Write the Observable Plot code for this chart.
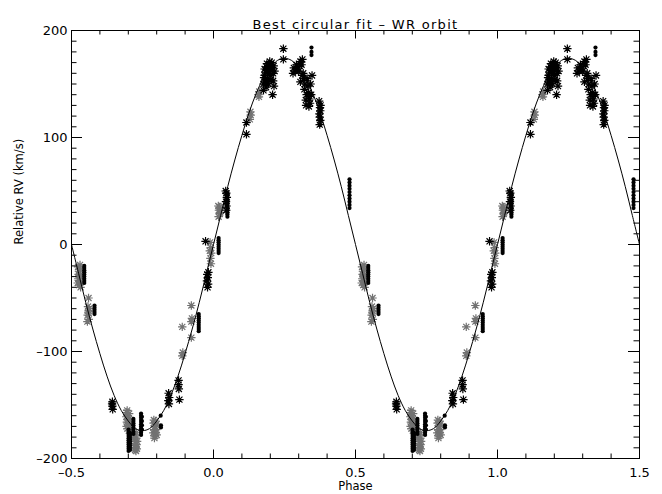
<!DOCTYPE html>
<html><head><meta charset="utf-8">
<script src="https://cdn.jsdelivr.net/npm/d3@7"></script>
<script src="https://cdn.jsdelivr.net/npm/@observablehq/plot@0.6"></script>
<style>
body{margin:0;background:#fff}
#chart svg{background:#fff}
</style>
</head><body><div id="chart"></div>
<script>
const titleText = "Best circular fit \u2013 WR orbit";
const xLabel = "Phase";
const yLabel = "Relative RV (km/s)";
const xTicks = [-0.5, 0, 0.5, 1, 1.5];
const yTicks = [-200, -100, 0, 100, 200];

// [phase, RV] for phases -0.5..0.5 (plotted again at phase + 1)
const grayStars = [
  [-0.477,-21],[-0.474,-25],[-0.471,-29],[-0.476,-32],[-0.469,-35],[-0.473,-38],[-0.468,-23],[-0.466,-30],[-0.478,-36],[-0.470,-19],[-0.475,-28],[-0.468,-40],
  [-0.440,-50],[-0.442,-58],[-0.440,-62],[-0.443,-66],[-0.439,-70],[-0.441,-64],[-0.444,-72],[-0.438,-60],
  [-0.306,-157],[-0.302,-160],[-0.298,-163],[-0.305,-166],[-0.300,-169],[-0.303,-172],[-0.297,-158],[-0.307,-161],[-0.299,-166],
  [-0.304,-155],[-0.301,-164],[-0.296,-171],[-0.306,-170],[-0.298,-174],
  [-0.276,-178],[-0.272,-181],[-0.275,-184],[-0.271,-187],[-0.274,-190],[-0.272,-176],[-0.277,-188],[-0.270,-191],
  [-0.278,-181],[-0.273,-193],[-0.269,-184],[-0.276,-192],
  [-0.211,-167],[-0.205,-170],[-0.209,-173],[-0.203,-176],[-0.207,-179],[-0.201,-168],[-0.212,-176],[-0.202,-173],
  [-0.210,-164],[-0.204,-165],[-0.200,-178],[-0.208,-181],
  [-0.110,-104],[-0.108,-101],[-0.110,-77],[-0.078,-87],[-0.078,-72],[-0.078,-57],[-0.076,-69],
  [-0.012,2],[-0.010,-3],[-0.008,-8],[-0.011,-13],[-0.009,-18],[-0.013,-6],
  [0.018,26],[0.022,29],[0.019,32],[0.021,35],[0.024,30],[0.017,36],
  [0.128,117],[0.131,121],[0.130,124],[0.158,140],[0.161,143],[0.160,138]
];
const blackStars = [
  [-0.356,-147],[-0.356,-151],[-0.355,-154],[-0.357,-149],
  [-0.158,-139],[-0.156,-143],[-0.159,-146],[-0.157,-149],[-0.120,-145],[-0.123,-127],[-0.123,-131],[-0.122,-135],
  [-0.022,-28],[-0.020,-31],[-0.023,-34],[-0.019,-37],[-0.021,-40],[-0.018,-26],[-0.028,3],
  [0.045,32],[0.046,36],[0.044,40],[0.047,44],[0.045,48],[0.043,50],
  [0.116,114],[0.116,103],
  [0.180,152],[0.180,158],[0.180,164],[0.185,150],[0.190,155],[0.190,161],[0.195,167],[0.200,158],[0.200,164],
  [0.205,170],[0.210,153],[0.210,160],[0.207,165],[0.185,147],[0.176,150],[0.178,156],[0.183,161],[0.187,166],
  [0.193,150],[0.197,160],[0.203,154],[0.212,167],[0.213,148],[0.215,162],[0.198,171],[0.188,169],[0.176,144],
  [0.208,140],[0.246,183],[0.246,173],
  [0.280,160],[0.283,165],[0.288,162],[0.292,168],[0.295,164],[0.300,162],[0.304,167],[0.310,168],[0.313,173],[0.306,171],
  [0.318,155],[0.322,150],[0.320,145],[0.328,140],[0.325,135],[0.332,148],[0.335,142],[0.338,136],[0.326,130],
  [0.340,132],[0.347,158],[0.342,150],[0.330,155],[0.312,158],[0.306,152],[0.316,160],[0.336,129],[0.344,140],
  [0.372,134],[0.375,128],[0.373,122],[0.376,116],[0.374,112],[0.377,130],[0.374,119],[0.376,125]
];
const blackDots = [
  [-0.455,-20],[-0.455,-22],[-0.455,-24],[-0.455,-26],[-0.455,-28],[-0.455,-30],[-0.455,-32],[-0.455,-34],[-0.455,-36],
  [-0.419,-57],[-0.419,-59],[-0.419,-61],[-0.419,-63],[-0.419,-65],
  [-0.299,-173],[-0.299,-175],[-0.299,-177],[-0.299,-179],[-0.299,-181],[-0.299,-183],[-0.299,-185],[-0.299,-187],[-0.299,-189],[-0.299,-191],[-0.299,-193],
  [-0.294,-176],[-0.294,-178],[-0.294,-180],[-0.294,-182],[-0.294,-184],[-0.294,-186],[-0.294,-188],[-0.294,-190],[-0.294,-192],
  [-0.282,-163],[-0.282,-165],[-0.282,-167],[-0.282,-169],[-0.282,-171],[-0.282,-173],[-0.282,-175],[-0.282,-177],
  [-0.255,-158],[-0.255,-160],[-0.255,-162],[-0.255,-164],[-0.255,-166],[-0.255,-168],[-0.255,-170],[-0.255,-172],[-0.255,-174],[-0.255,-176],[-0.255,-178],
  [-0.252,-161],[-0.252,-165],[-0.252,-169],[-0.252,-173],
  [-0.186,-160],[-0.185,-169],[-0.185,-171],
  [-0.052,-65],[-0.052,-67],[-0.052,-69],[-0.052,-71],[-0.052,-73],[-0.052,-75],[-0.052,-77],[-0.052,-79],[-0.052,-81],
  [0.018,6],[0.018,4],[0.018,2],[0.018,0],[0.018,-2],[0.018,-4],[0.018,-6],[0.018,-8],
  [0.049,26],[0.049,28],[0.049,30],[0.049,32],[0.049,34],[0.049,36],[0.049,38],[0.049,40],[0.049,42],[0.049,44],[0.049,46],[0.049,48],
  [0.345,184],[0.345,180],[0.345,177],
  [0.375,112],[0.375,116],[0.375,120],[0.375,124],[0.375,128],[0.375,132],
  [0.479,61],[0.479,58],[0.479,55],[0.479,52],[0.479,49],[0.479,46],[0.479,43],[0.479,40],[0.479,37],[0.479,34]
];

// fitted circular orbit, read at steps of 0.025 in phase over one cycle
const fitPhase = [-0.5,-0.475,-0.45,-0.425,-0.4,-0.375,-0.35,-0.325,-0.3,-0.275,-0.25,-0.225,-0.2,-0.175,-0.15,-0.125,-0.1,-0.075,-0.05,-0.025,
  0,0.025,0.05,0.075,0.1,0.125,0.15,0.175,0.2,0.225,0.25,0.275,0.3,0.325,0.35,0.375,0.4,0.425,0.45,0.475,0.5];
const fitRV = [0,-27,-54,-79,-102,-123,-141,-155,-165,-172,-174,-172,-165,-155,-141,-123,-102,-79,-54,-27,
  0,27,54,79,102,123,141,155,165,172,174,172,165,155,141,123,102,79,54,27,0];

const twoCycles = arr => arr.flatMap(([p, v]) => [{phase: p, rv: v}, {phase: p + 1, rv: v}]);
const gray = twoCycles(grayStars);
const stars = twoCycles(blackStars);
const dots = twoCycles(blackDots);
const fit = fitPhase.map((p, i) => ({phase: p, rv: fitRV[i]}))
  .concat(fitPhase.slice(1).map((p, i) => ({phase: p + 1, rv: fitRV[i + 1]})));

const xMinor = d3.range(-5, 16).map(d => d / 10);
const yMinor = d3.range(-20, 21).map(d => d * 10);

const idlStar = {
  draw(ctx, size) {
    const r = Math.sqrt(size / Math.PI);
    const d = r * 0.72;
    ctx.moveTo(-r, 0); ctx.lineTo(r, 0);
    ctx.moveTo(0, -r); ctx.lineTo(0, r);
    ctx.moveTo(-d, -d); ctx.lineTo(d, d);
    ctx.moveTo(-d, d); ctx.lineTo(d, -d);
  }
};
const fmt = d => (d < 0 ? "\u2013" : "") + Math.abs(d).toFixed(1);
const fmtY = d => (d < 0 ? "\u2013" : "") + Math.abs(d);
const F = "DejaVu Sans";
const W = 662, H = 494, ML = 71, MR = 23, MT = 30, MB = 36;
const fw = W - ML - MR, fh = H - MT - MB;

const chart = Plot.plot({
  width: W, height: H,
  marginLeft: ML, marginRight: MR, marginTop: MT, marginBottom: MB,
  style: {fontFamily: F, background: "#fff", color: "#000"},
  x: {domain: [-0.5, 1.5], label: null, axis: null},
  y: {domain: [-200, 200], label: null, axis: null},
  marks: [
    Plot.dot(gray, {x: "phase", y: "rv", symbol: idlStar, r: 4.2, stroke: "#727272", strokeWidth: 1.2, fill: "none"}),
    Plot.line(fit, {x: "phase", y: "rv", curve: "catmull-rom", stroke: "#000", strokeWidth: 1}),
    Plot.dot(stars, {x: "phase", y: "rv", symbol: idlStar, r: 4.2, stroke: "#000", strokeWidth: 1.2, fill: "none"}),
    Plot.dot(dots, {x: "phase", y: "rv", r: 2.1, fill: "#000", stroke: "none"}),
    Plot.frame({stroke: "#000", strokeWidth: 1}),
    // inward ticks on all four sides
    Plot.tickX(xTicks, {x: d => d, insetTop: fh - 8.5, stroke: "#000"}),
    Plot.tickX(xMinor, {x: d => d, insetTop: fh - 4.5, stroke: "#000"}),
    Plot.tickX(xTicks, {x: d => d, insetBottom: fh - 8.5, stroke: "#000"}),
    Plot.tickX(xMinor, {x: d => d, insetBottom: fh - 4.5, stroke: "#000"}),
    Plot.tickY(yTicks, {y: d => d, insetRight: fw - 11, stroke: "#000"}),
    Plot.tickY(yMinor, {y: d => d, insetRight: fw - 5.5, stroke: "#000"}),
    Plot.tickY(yTicks, {y: d => d, insetLeft: fw - 11, stroke: "#000"}),
    Plot.tickY(yMinor, {y: d => d, insetLeft: fw - 5.5, stroke: "#000"}),
    Plot.axisX(xTicks, {anchor: "bottom", tickSize: 0, tickPadding: 9, tickFormat: fmt, fontSize: 13, fontFamily: F, label: null}),
    Plot.axisY(yTicks, {anchor: "left", tickSize: 0, tickPadding: 4, tickFormat: fmtY, fontSize: 13, fontFamily: F, label: null}),
    Plot.text([titleText], {frameAnchor: "top", dy: -11, fontFamily: F}),
    Plot.text([xLabel], {frameAnchor: "bottom", dy: 31.5, fontFamily: F}),
    Plot.text([yLabel], {frameAnchor: "left", dx: -52, rotate: -90, fontFamily: F})
  ]
});
const sel = d3.select(chart);
sel.selectAll("text").filter(function() { return this.textContent === titleText; })
  .style("font-size", "13px").style("letter-spacing", "1.3px");
sel.selectAll("text").filter(function() { return this.textContent === xLabel || this.textContent === yLabel; })
  .style("font-size", "11.5px");
document.getElementById("chart").appendChild(chart);
</script>
</body></html>
